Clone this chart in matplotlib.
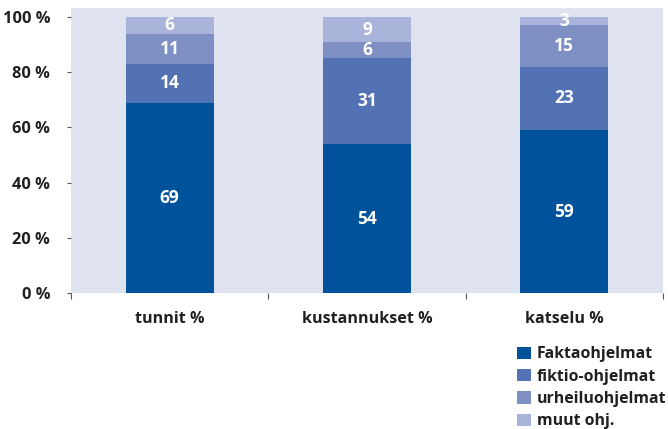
"""
Stacked share chart: tunnit, kustannukset, katselu by programme type
"""
import matplotlib
matplotlib.use("Agg")
import matplotlib.pyplot as plt
import numpy as np

# Data
categories = ["tunnit %", "kustannukset %", "katselu %"]
series_names = ["Faktaohjelmat", "fiktio-ohjelmat", "urheiluohjelmat", "muut ohj."]
fakta = [69, 54, 59]
fiktio = [14, 31, 23]
urheilu = [11, 6, 15]
muut = [6, 9, 3]
yticks = [0, 20, 40, 60, 80, 100]

colors = ["#00529b", "#5272b4", "#7e8fc4", "#aab4da"]
text_color = "#231f20"

plt.rcParams["font.family"] = ["Open Sans", "DejaVu Sans"]
plt.rcParams["font.weight"] = "bold"

fig = plt.figure(figsize=(6.68, 4.29), dpi=100)
ax = fig.add_axes([71 / 668, 136 / 429, 592 / 668, 285 / 429])
ax.set_facecolor("#dfe2ef")

x = np.arange(len(categories))
bottom = np.zeros(len(categories))
handles = []
for name, vals, col in zip(series_names, [fakta, fiktio, urheilu, muut], colors):
    bars = ax.bar(x, vals, width=0.445, bottom=bottom, color=col, label=name)
    handles.append(bars)
    for xi, b, v in zip(x, bottom, vals):
        ax.text(xi, b + v / 2, str(v), ha="center", va="center",
                color="white", fontsize=12.5, fontweight="bold")
    bottom += np.array(vals)

ax.set_xlim(-0.5, 2.5)
ax.set_ylim(0, 103.3)
ax.set_yticks(yticks)
ax.set_yticklabels([f"{t} %" for t in yticks], fontsize=11.8, color=text_color)
ax.tick_params(axis="y", length=3, width=0.8, color="#555555", pad=12)

ax.set_xticks(x)
ax.set_xticklabels(categories, fontsize=11.6, color=text_color)
ax.tick_params(axis="x", which="major", length=0, pad=13)
ax.set_xticks([-0.5, 0.5, 1.5, 2.5], minor=True)
ax.tick_params(axis="x", which="minor", length=4, width=0.8, color="#555555")

for s in ax.spines.values():
    s.set_visible(False)

fig.legend(handles=handles, labels=series_names, loc="upper left",
           bbox_to_anchor=(511 / 668, 1 - 340 / 429), frameon=False,
           fontsize=11.4, handlelength=0.85, handleheight=0.85,
           handletextpad=0.4, labelspacing=0.4, borderaxespad=0,
           labelcolor=text_color)

fig.savefig("out.png", dpi=100)
